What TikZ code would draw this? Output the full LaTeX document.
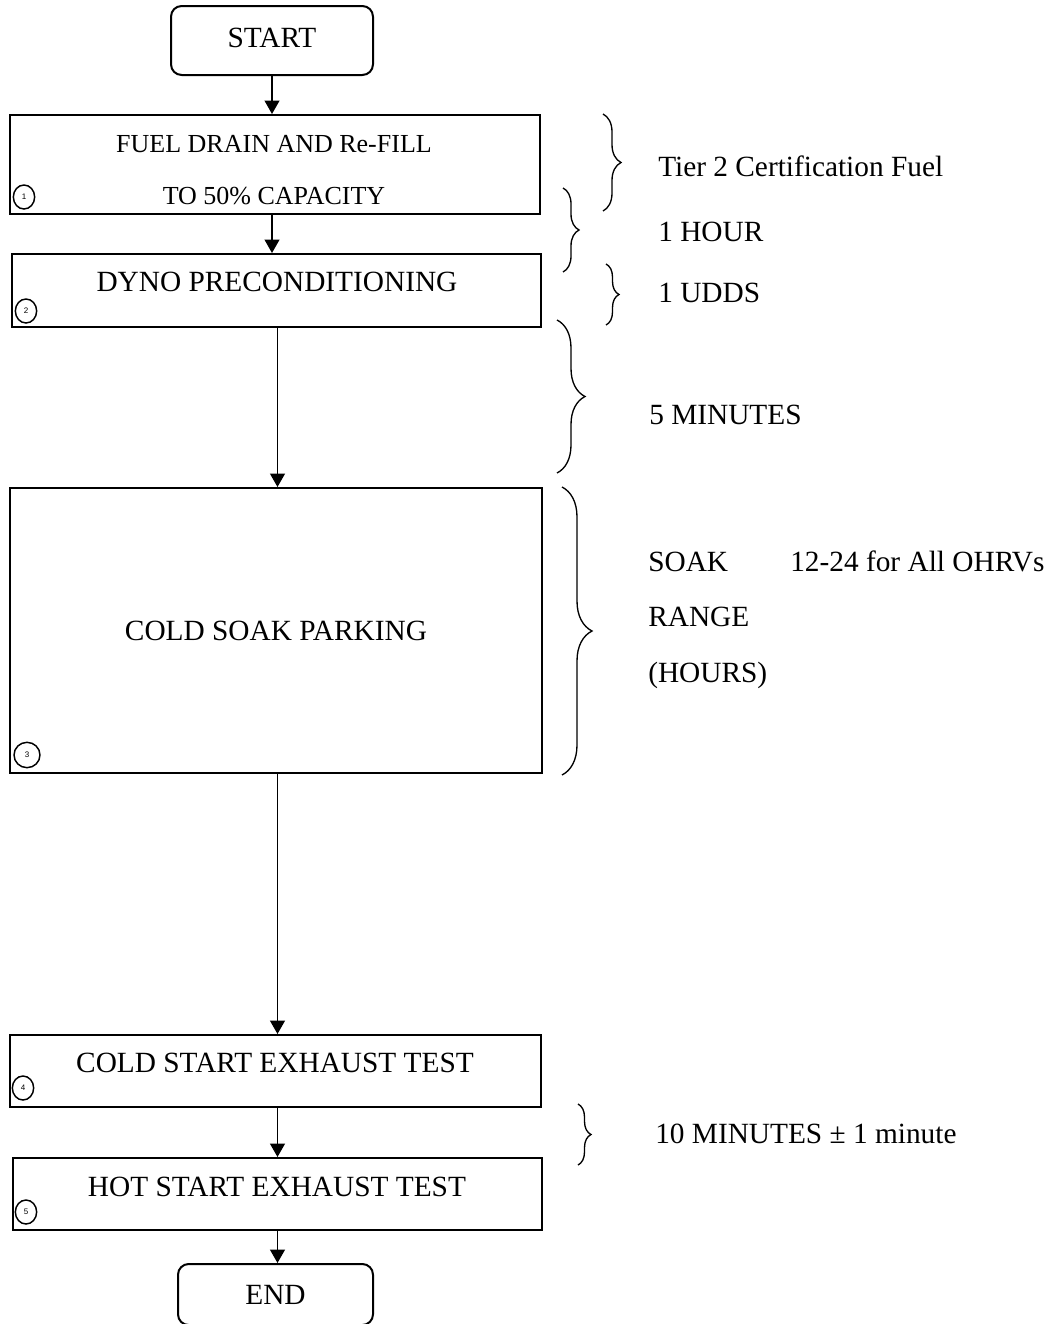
\documentclass[tikz,border=0pt]{standalone}
\usepackage{fontspec}
\setmainfont{Liberation Serif}
\newfontfamily\numfont{Liberation Sans}
\usetikzlibrary{arrows.meta,decorations.pathreplacing,shapes.geometric}
\begin{document}
\begin{tikzpicture}[x=0.75pt,y=-0.75pt,
  box/.style={draw,line width=1.5pt,inner sep=0pt},
  term/.style={box,rounded corners=8pt},
  lbl/.style={font=\fontsize{22}{26}\selectfont,inner sep=0pt,text height=14.4pt,text depth=0pt},
  lblsmall/.style={font=\fontsize{19.5}{23}\selectfont,inner sep=0pt,text height=12.8pt,text depth=0pt},
  arr/.style={line width=1.4pt,-{Triangle[length=10pt,width=11pt]}},
  num/.style={draw,ellipse,line width=1.1pt,inner sep=0pt,minimum width=16pt,minimum height=18pt,font=\numfont\fontsize{6}{6}\selectfont},
  brc/.style={decorate,decoration={brace,amplitude=#1},line width=1pt},
]
\useasboundingbox (0,0) rectangle (1059,1324);

% column position of the lower connectors
\coordinate (ax) at (277.5,0);

% boxes
\node[term,minimum width=151.5pt,minimum height=51.75pt] (start) at (272,40.5) {};
\node[box,minimum width=397.5pt,minimum height=74.25pt] (b1) at (275,164.5) {};
\node[box,minimum width=396.75pt,minimum height=54.75pt] (b2) at (276.5,290.5) {};
\node[box,minimum width=399pt,minimum height=213.75pt] (b3) at (276,630.5) {};
\node[box,minimum width=398.25pt,minimum height=54pt] (b4) at (275.5,1071) {};
\node[box,minimum width=396.75pt,minimum height=54pt] (b5) at (277.5,1194) {};
\node[term,minimum width=146.25pt,minimum height=45.75pt] (end) at (275.5,1294.5) {};

% box texts
\node[lbl] (tstart) at (272,38) {START};
\node[lblsmall] (t1a) at (274,143.5) {FUEL DRAIN AND Re-FILL};
\node[lblsmall] (t1b) at (274,195.5) {TO 50\% CAPACITY};
\node[lbl] (t2) at (277,282) {DYNO PRECONDITIONING};
\node[lbl] (t3) at (276,631) {COLD SOAK PARKING};
\node[lbl] (t4) at (275,1063) {COLD START EXHAUST TEST};
\node[lbl] (t5) at (277,1187) {HOT START EXHAUST TEST};
\node[lbl] (tend) at (275.5,1295) {END};

% circled numbers
\node[num] (c1) at (24,197) {1};
\node[num] (c2) at (26,311) {2};
\node[num,minimum width=19.5pt,minimum height=19pt] (c3) at (27,755) {3};
\node[num] (c4) at (23,1088) {4};
\node[num] (c5) at (26,1212) {5};

% connectors
\draw[arr] (start.south) -- (b1.north -| start.south);
\draw[arr] (b1.south -| start.south) -- (b2.north -| start.south);
\draw[arr] (b2.south -| ax) -- (b3.north -| ax);
\draw[arr] (b3.south -| ax) -- (b4.north -| ax);
\draw[arr] (b4.south -| ax) -- (b5.north -| ax);
\draw[arr] (b5.south -| ax) -- (end.north -| ax);

% braces
\draw[brc=13.5pt] (603,114) -- (603,211);
\draw[brc=12pt] (563,188) -- (563,272);
\draw[brc=9.75pt] (606,264) -- (606,325);
\draw[brc=21pt] (557,320) -- (557,473);
\draw[brc=22.5pt] (562,487) -- (562,775);
\draw[brc=9.75pt] (578,1104) -- (578,1165);

% side labels
\node[lbl,anchor=west] (l1) at (658,167) {Tier 2 Certification Fuel};
\node[lbl,anchor=west] (l2) at (658,232) {1 HOUR};
\node[lbl,anchor=west] (l3) at (658,293) {1 UDDS};
\node[lbl,anchor=west] (l4) at (649,415) {5 MINUTES};
\node[lbl,anchor=west] (l5) at (648,562) {SOAK};
\node[lbl,anchor=west] (l5b) at (790,562) {12-24 for All OHRVs};
\node[lbl,anchor=west] (l6) at (648,617) {RANGE};
\node[lbl,anchor=west] (l7) at (648,673) {(HOURS)};
\node[lbl,anchor=west] (l8) at (655,1134) {10 MINUTES ± 1 minute};
\end{tikzpicture}
\end{document}
